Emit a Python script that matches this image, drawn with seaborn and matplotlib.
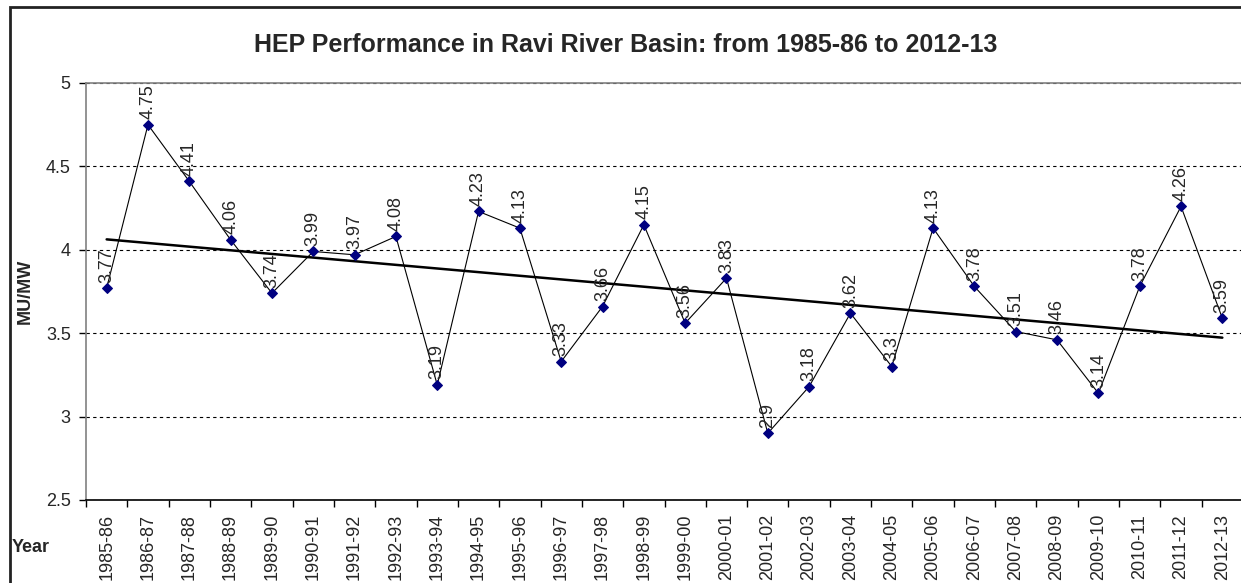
import numpy as np
import matplotlib
matplotlib.use("Agg")
import matplotlib.pyplot as plt
from matplotlib.patches import Rectangle
import seaborn as sns

# Data
years = ["1985-86", "1986-87", "1987-88", "1988-89", "1989-90", "1990-91", "1991-92",
         "1992-93", "1993-94", "1994-95", "1995-96", "1996-97", "1997-98", "1998-99",
         "1999-00", "2000-01", "2001-02", "2002-03", "2003-04", "2004-05", "2005-06",
         "2006-07", "2007-08", "2008-09", "2009-10", "2010-11", "2011-12", "2012-13"]
mu_mw = [3.77, 4.75, 4.41, 4.06, 3.74, 3.99, 3.97, 4.08, 3.19, 4.23, 4.13, 3.33, 3.66, 4.15,
         3.56, 3.83, 2.9, 3.18, 3.62, 3.3, 4.13, 3.78, 3.51, 3.46, 3.14, 3.78, 4.26, 3.59]
y_ticks = [2.5, 3, 3.5, 4, 4.5, 5]

sns.set_style("white")
plt.rcParams['font.family'] = ['Liberation Sans', 'DejaVu Sans']

W, H = 1241, 583
fig = plt.figure(figsize=(W / 100, H / 100), dpi=100)
ax = fig.add_axes([86 / W, (H - 500) / H, 1157 / W, 417 / H])

x = np.arange(len(years))

# trend line (linear fit, like Excel)
sns.regplot(x=x, y=mu_mw, ax=ax, scatter=False, ci=None, truncate=True,
            line_kws=dict(color='black', lw=1.8))

# series
sns.lineplot(x=x, y=mu_mw, ax=ax, color='black', lw=0.8, marker='D',
             markersize=5, markerfacecolor='#000080', markeredgecolor='#000080')

for xi, v in zip(x, mu_mw):
    ax.annotate(f"{v:g}", (xi, v), xytext=(0, 4), textcoords='offset points',
                rotation=90, ha='center', va='bottom', fontsize=13)

ax.set_xlim(-0.5, len(years) - 0.5)
ax.set_ylim(2.5, 5)
ax.set_yticks(y_ticks)
ax.set_yticklabels([f"{t:g}" for t in y_ticks], fontsize=13)
ax.set_xticks(x)
ax.set_xticklabels(years, rotation=90, fontsize=13, va='top')
ax.set_xticks(np.arange(len(years) + 1) - 0.5, minor=True)
ax.tick_params(axis='x', which='major', length=0, pad=10)
ax.tick_params(axis='x', which='minor', length=5, width=1, color='black', direction='out', bottom=True)
ax.tick_params(axis='y', length=5, width=1, color='black', direction='out', left=True, pad=6)

ax.yaxis.grid(True, linestyle=(0, (3, 3)), color='black', lw=0.8)
ax.xaxis.grid(False)
ax.set_axisbelow(True)
for s in ['left', 'top', 'right']:
    ax.spines[s].set_color('#808080')
    ax.spines[s].set_linewidth(1.2)
ax.spines['bottom'].set_color('black')
ax.spines['bottom'].set_linewidth(1.2)
ax.set_xlabel('')
ax.set_ylabel('')

fig.text(626 / W, 1 - 45 / H, "HEP Performance in Ravi River Basin: from 1985-86 to 2012-13",
         ha='center', va='center', fontsize=18, fontweight='bold')
fig.text(25 / W, 1 - 291 / H, "MU/MW", rotation=90, ha='center', va='center',
         fontsize=13, fontweight='bold')
fig.text(12 / W, 1 - 548 / H, "Year", ha='left', va='center', fontsize=13, fontweight='bold')

# chart area border
fig.add_artist(Rectangle((10 / W, -0.1), 2, 1.1 - 7 / H, transform=fig.transFigure,
                         fill=False, edgecolor='#222222', lw=2))

fig.savefig("out.png", dpi=100)
